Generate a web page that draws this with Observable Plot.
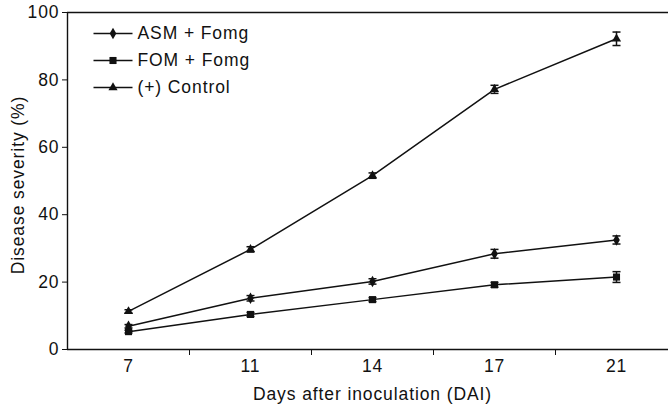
<!DOCTYPE html>
<html>
<head>
<meta charset="utf-8">
<script src="https://cdn.jsdelivr.net/npm/d3@7"></script>
<script src="https://cdn.jsdelivr.net/npm/@observablehq/plot@0.6"></script>
<style>
  html, body { margin: 0; padding: 0; background: #fff; overflow: hidden; }
  svg text { letter-spacing: 0.9px; }
</style>
</head>
<body>
<div id="chart"></div>
<script>
const days = ["7", "11", "14", "17", "21"];
const seriesNames = ["ASM + Fomg", "FOM + Fomg", "(+) Control"];
const asmMean = [6.9, 15.2, 20.2, 28.4, 32.5];
const asmErr = [0.5, 0.8, 0.8, 1.3, 1.2];
const fomMean = [5.3, 10.4, 14.8, 19.2, 21.5];
const fomErr = [0.4, 0.6, 0.6, 0.7, 1.6];
const ctrlMean = [11.3, 29.7, 51.6, 77.2, 92.2];
const ctrlErr = [0.5, 0.8, 0.8, 1.2, 2.0];
const yTicks = [0, 20, 40, 60, 80, 100];

const symbols = ["diamond", "square", "triangle"];
const symbolR = [3.5, 4.0, 3.4];

const means = [asmMean, fomMean, ctrlMean];
const errs = [asmErr, fomErr, ctrlErr];
const rows = [];
seriesNames.forEach((s, k) => {
  days.forEach((d, i) => rows.push({series: s, k, i, day: d, mean: means[k][i], err: errs[k][i]}));
});

// horizontal-line symbol (for error bar caps and legend lines)
const hline = {
  draw(context, size) {
    const r = Math.sqrt(size / Math.PI);
    context.moveTo(-r, 0);
    context.lineTo(r, 0);
  }
};

const marks = [
  Plot.ruleY([0, 100], {stroke: "#111", strokeWidth: 1.4}),
  Plot.ruleX([-0.5], {stroke: "#111", strokeWidth: 1.4}),
  Plot.axisY({ticks: yTicks, tickSize: 5, tickPadding: 3, label: null, stroke: "#111"}),
  Plot.axisX({ticks: [0.5, 1.5, 2.5, 3.5], tickSize: 6, tickFormat: () => "", label: null, stroke: "#111"}),
  Plot.axisX({ticks: [0, 1, 2, 3, 4], tickSize: 0, tickPadding: 10, tickFormat: i => days[i], label: null}),
  Plot.text(["Disease severity (%)"], {frameAnchor: "left", dx: -49, dy: 4, rotate: -90, textAnchor: "middle", lineAnchor: "middle", text: d => d, fill: "#111"}),
  Plot.text(["Days after inoculation (DAI)"], {frameAnchor: "bottom", dy: 50, text: d => d, fill: "#111"}),
  Plot.line(rows, {x: "i", y: "mean", z: "series", stroke: "#111", strokeWidth: 1.5}),
  Plot.ruleX(rows, {x: "i", y1: d => d.mean - d.err, y2: d => d.mean + d.err, stroke: "#111", strokeWidth: 1.5}),
  Plot.dot(rows, {x: "i", y: d => d.mean + d.err, symbol: hline, r: 4, stroke: "#111", strokeWidth: 1.5}),
  Plot.dot(rows, {x: "i", y: d => d.mean - d.err, symbol: hline, r: 4, stroke: "#111", strokeWidth: 1.5})
];

seriesNames.forEach((s, k) => {
  marks.push(Plot.dot(rows.filter(d => d.k === k), {x: "i", y: "mean", symbol: symbols[k], r: symbolR[k], fill: "#111", stroke: "none"}));
  // legend entry
  marks.push(Plot.dot([s], {frameAnchor: "top-left", dx: 45.5, dy: 21 + 27 * k, symbol: hline, r: 19.5, stroke: "#111", strokeWidth: 1.5}));
  marks.push(Plot.dot([s], {frameAnchor: "top-left", dx: 45.5, dy: 21 + 27 * k, symbol: symbols[k], r: symbolR[k], fill: "#111", stroke: "none"}));
  marks.push(Plot.text([s], {frameAnchor: "top-left", dx: 70, dy: 21 + 27 * k, text: d => d, textAnchor: "start", lineAnchor: "middle", fill: "#111"}));
});

const chart = Plot.plot({
  width: 668,
  height: 404,
  marginLeft: 67,
  marginRight: -9,
  marginTop: 12,
  marginBottom: 55,
  style: {fontFamily: "'Liberation Sans', Arial, sans-serif", fontSize: "17.5px", background: "#fff", color: "#111"},
  x: {domain: [-0.5, 4.5]},
  y: {domain: [0, 100]},
  marks
});
document.getElementById("chart").appendChild(chart);
</script>
</body>
</html>
